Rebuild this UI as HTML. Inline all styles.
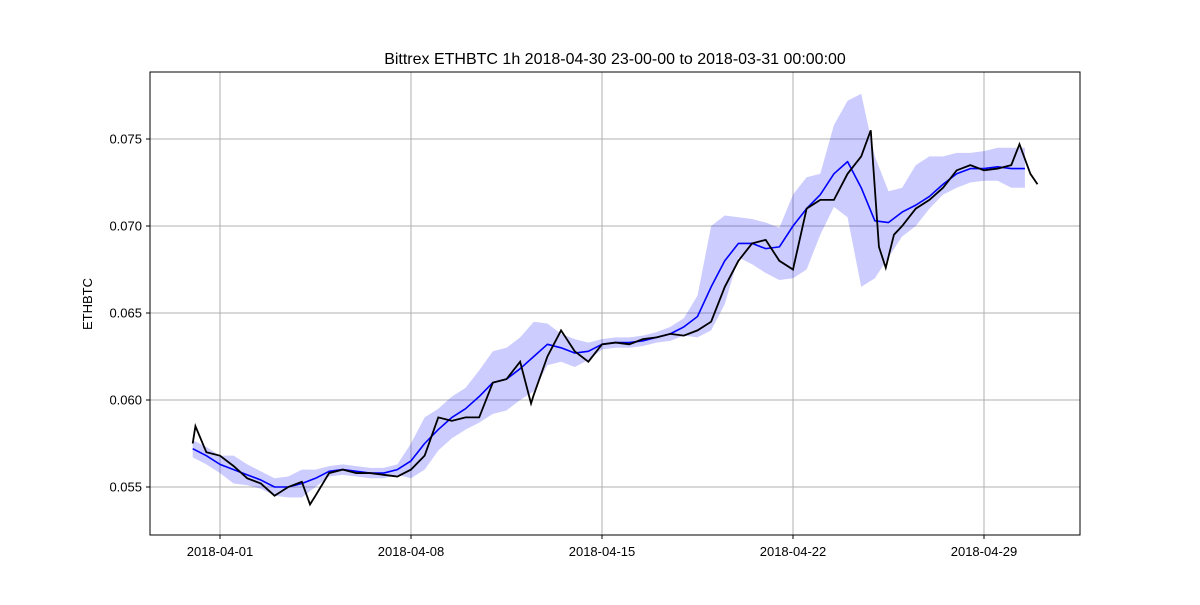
<!DOCTYPE html>
<html><head><meta charset="utf-8"><style>
body{margin:0;background:#fff;}
svg text{font-family:"Liberation Sans","DejaVu Sans",sans-serif;fill:#000;}
</style></head><body>
<svg id="chart" width="1200" height="600" xmlns="http://www.w3.org/2000/svg">
<rect width="1200" height="600" fill="#fff"/>
<g id="grid"></g><g id="band"></g><g id="lines"></g><g id="axes"></g>
</svg>
<script>
const days=[0,0.1,0.5,1,1.5,2,2.5,3,3.5,4,4.3,4.5,5,5.5,6,6.5,7,7.5,8,8.5,9,9.5,10,10.5,11,11.5,12,12.4,12.5,13,13.5,14,14.5,15,15.5,16,16.5,17,17.5,18,18.5,19,19.5,20,20.5,21,21.5,22,22.5,23,23.5,24,24.5,24.85,25.15,25.4,25.7,26,26.5,27,27.5,28,28.5,29,29.5,30,30.3,30.7,30.96];
const price=[0.0575,0.0585,0.0570,0.0568,0.0562,0.0555,0.0552,0.0545,0.0550,0.0553,0.0540,0.0545,0.0558,0.0560,0.0558,0.0558,0.0557,0.0556,0.0560,0.0568,0.0590,0.0588,0.0590,0.0590,0.0610,0.0612,0.0622,0.0598,0.0603,0.0625,0.0640,0.0628,0.0622,0.0632,0.0633,0.0632,0.0635,0.0636,0.0638,0.0637,0.0640,0.0645,0.0665,0.0680,0.0690,0.0692,0.0680,0.0675,0.0710,0.0715,0.0715,0.0730,0.0740,0.0755,0.0688,0.0676,0.0695,0.0700,0.0710,0.0715,0.0722,0.0732,0.0735,0.0732,0.0733,0.0735,0.0747,0.0730,0.0724];
const maDays=[0,0.5,1,1.5,2,2.5,3,3.5,4,4.5,5,5.5,6,6.5,7,7.5,8,8.5,9,9.5,10,10.5,11,11.5,12,12.5,13,13.5,14,14.5,15,15.5,16,16.5,17,17.5,18,18.5,19,19.5,20,20.5,21,21.5,22,22.5,23,23.5,24,24.5,25,25.5,26,26.5,27,27.5,28,28.5,29,29.5,30,30.5];
const ma=[0.0572,0.0568,0.0563,0.0560,0.0557,0.0554,0.0550,0.0550,0.0552,0.0555,0.0559,0.0560,0.0559,0.0558,0.0558,0.0560,0.0565,0.0575,0.0583,0.0590,0.0595,0.0602,0.0610,0.0612,0.0618,0.0625,0.0632,0.0630,0.0627,0.0628,0.0632,0.0633,0.0633,0.0634,0.0636,0.0638,0.0642,0.0648,0.0665,0.0680,0.0690,0.0690,0.0687,0.0688,0.0700,0.0710,0.0718,0.0730,0.0737,0.0722,0.0703,0.0702,0.0708,0.0712,0.0717,0.0724,0.0730,0.0733,0.0733,0.0734,0.0733,0.0733];
const upper=[0.0577,0.0573,0.0568,0.0568,0.0563,0.0559,0.0555,0.0556,0.0560,0.0560,0.0562,0.0563,0.0562,0.0561,0.0561,0.0563,0.0575,0.0590,0.0595,0.0602,0.0607,0.0617,0.0628,0.0630,0.0636,0.0645,0.0644,0.0638,0.0635,0.0633,0.0635,0.0636,0.0636,0.0637,0.0639,0.0642,0.0647,0.0660,0.0700,0.0706,0.0705,0.0704,0.0702,0.0699,0.0718,0.0728,0.0730,0.0758,0.0772,0.0776,0.0740,0.0720,0.0722,0.0735,0.0740,0.0740,0.0742,0.0742,0.0743,0.0745,0.0745,0.0745];
const lower=[0.0567,0.0563,0.0558,0.0552,0.0551,0.0549,0.0545,0.0544,0.0544,0.0550,0.0556,0.0557,0.0556,0.0555,0.0555,0.0557,0.0555,0.0560,0.0571,0.0578,0.0583,0.0587,0.0592,0.0594,0.0600,0.0605,0.0620,0.0622,0.0619,0.0623,0.0629,0.0630,0.0630,0.0631,0.0633,0.0634,0.0637,0.0636,0.0640,0.0655,0.0682,0.0678,0.0673,0.0669,0.0670,0.0675,0.0695,0.0711,0.0705,0.0665,0.0670,0.0682,0.0694,0.0700,0.0710,0.0718,0.0722,0.0725,0.0726,0.0726,0.0722,0.0722];
const yTicks=[0.055,0.060,0.065,0.070,0.075];
const xTickDays=[1,8,15,22,29];
const xTickLabels=["2018-04-01","2018-04-08","2018-04-15","2018-04-22","2018-04-29"];
const NS="http://www.w3.org/2000/svg";
const L=150,R=1080,T=72,B=535;
const xs=d=>192.7+d*27.286;
const ys=v=>487-(v-0.055)*17400;
function mk(tag,attrs,parent){const e=document.createElementNS(NS,tag);for(const k in attrs)e.setAttribute(k,attrs[k]);parent.appendChild(e);return e;}
const grid=document.getElementById('grid'),axes=document.getElementById('axes'),band=document.getElementById('band'),lines=document.getElementById('lines');
yTicks.forEach(v=>{
 const l=mk('line',{x1:L,x2:R,y1:ys(v),y2:ys(v),stroke:'#b0b0b0','stroke-width':1},grid);
 
 
 mk('line',{x1:L-4,x2:L,y1:ys(v),y2:ys(v),stroke:'#000'},axes);
 const t=mk('text',{x:L-8,y:ys(v)+4.5,'text-anchor':'end','font-size':13},axes);t.textContent=v.toFixed(3);
 
 
});
xTickDays.forEach((d,i)=>{
 const l=mk('line',{x1:xs(d),x2:xs(d),y1:T,y2:B,stroke:'#b0b0b0','stroke-width':1},grid);
 
 
 mk('line',{x1:xs(d),x2:xs(d),y1:B,y2:B+4,stroke:'#000'},axes);
 const t=mk('text',{x:xs(d),y:B+21,'text-anchor':'middle','font-size':13},axes);t.textContent=xTickLabels[i];
 
 
});
let up=maDays.map((d,i)=>xs(d)+','+ys(upper[i]));
let lo=maDays.map((d,i)=>xs(d)+','+ys(lower[i])).reverse();
const poly=mk('polygon',{points:up.concat(lo).join(' '),fill:'#0000ff',opacity:0.2,'stroke-linejoin':'round'},band);


const maL=mk('polyline',{points:maDays.map((d,i)=>xs(d)+','+ys(ma[i])).join(' '),fill:'none',stroke:'#0000ff','stroke-width':1.6,'stroke-linejoin':'round'},lines);


const pL=mk('polyline',{points:days.map((d,i)=>xs(d)+','+ys(price[i])).join(' '),fill:'none',stroke:'#000','stroke-width':1.8},lines);


const fr=mk('rect',{x:L,y:T,width:R-L,height:B-T,fill:'none',stroke:'#000','stroke-width':1},axes);


const title=mk('text',{x:615,y:64,'text-anchor':'middle','font-size':16},axes);title.textContent='Bittrex ETHBTC 1h 2018-04-30 23-00-00 to 2018-03-31 00:00:00';


const yl=mk('text',{x:92,y:304,'text-anchor':'middle','font-size':13,transform:'rotate(-90 92 304)'},axes);yl.textContent='ETHBTC';


</script>
</body></html>
